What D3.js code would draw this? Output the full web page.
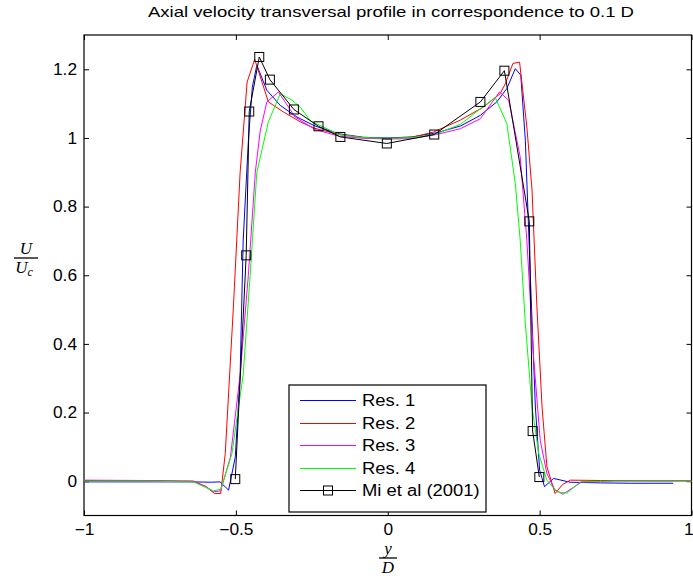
<!DOCTYPE html>
<html lang="en">
<head>
<meta charset="UTF-8" />
<title>Axial velocity transversal profile</title>
<script src="https://d3js.org/d3.v7.min.js"></script>
<style>
  body { margin: 0; background: #fff; }
  svg text { font-family: "Liberation Sans", Arial, sans-serif; }
</style>
</head>
<body>
<svg width="693" height="582"></svg>
<script>
// data
const res1X = [-1, -0.8, -0.65, -0.58, -0.552, -0.524, -0.502, -0.486, -0.476, -0.459, -0.446, -0.431, -0.398, -0.354, -0.299, -0.24, -0.16, -0.08, 0, 0.08, 0.16, 0.24, 0.305, 0.359, 0.392, 0.42, 0.438, 0.453, 0.469, 0.486, 0.5, 0.516, 0.546, 0.6, 0.7, 0.8, 0.94];
const res1Y = [-0.002, -0.002, -0.002, -0.003, -0.002, -0.026, 0.07, 0.31, 0.70, 0.99, 1.148, 1.212, 1.139, 1.095, 1.061, 1.035, 1.012, 1.002, 1.0, 1.003, 1.015, 1.035, 1.066, 1.105, 1.144, 1.202, 1.183, 0.993, 0.606, 0.216, 0.032, -0.016, 0.008, -0.003, -0.005, -0.006, -0.006];

const res2X = [-1, -0.8, -0.64, -0.6, -0.57, -0.55, -0.535, -0.508, -0.486, -0.463, -0.438, -0.393, -0.344, -0.288, -0.24, -0.16, -0.08, 0, 0.08, 0.15, 0.239, 0.315, 0.37, 0.387, 0.412, 0.434, 0.458, 0.475, 0.491, 0.508, 0.524, 0.551, 0.575, 0.601, 0.7, 0.85, 1];
const res2Y = [0.002, 0.001, 0.0, -0.015, -0.036, -0.036, 0.08, 0.51, 0.9, 1.163, 1.229, 1.105, 1.076, 1.047, 1.028, 1.01, 1.001, 0.998, 1.002, 1.017, 1.052, 1.09, 1.129, 1.158, 1.217, 1.221, 1.032, 0.848, 0.508, 0.216, 0.042, -0.036, -0.01, 0.003, 0.002, 0.001, 0.001];

const res3X = [-1, -0.8, -0.64, -0.6, -0.573, -0.55, -0.518, -0.486, -0.459, -0.436, -0.42, -0.398, -0.36, -0.305, -0.24, -0.16, -0.08, 0, 0.08, 0.16, 0.239, 0.305, 0.368, 0.398, 0.436, 0.458, 0.48, 0.502, 0.524, 0.55, 0.577, 0.639, 0.75, 1];
const res3Y = [0.003, 0.002, 0.0, -0.015, -0.031, -0.028, 0.07, 0.31, 0.6, 0.9, 1.02, 1.105, 1.134, 1.061, 1.025, 1.005, 0.999, 0.997, 0.998, 1.01, 1.027, 1.056, 1.134, 1.11, 0.945, 0.702, 0.362, 0.119, 0.022, -0.025, -0.038, -0.002, 0.001, 0.001];

const res4X = [-1, -0.8, -0.64, -0.6, -0.574, -0.55, -0.513, -0.476, -0.453, -0.431, -0.393, -0.354, -0.315, -0.288, -0.255, -0.16, -0.08, 0, 0.08, 0.16, 0.24, 0.305, 0.354, 0.392, 0.42, 0.436, 0.453, 0.475, 0.497, 0.524, 0.557, 0.59, 0.634, 0.75, 1];
const res4Y = [0.0, 0.0, -0.002, -0.018, -0.028, -0.024, 0.08, 0.31, 0.6, 0.9, 1.047, 1.129, 1.11, 1.09, 1.05, 1.01, 1.001, 0.999, 1.001, 1.012, 1.04, 1.085, 1.118, 1.042, 0.867, 0.702, 0.459, 0.216, 0.081, 0.003, -0.031, -0.035, -0.002, 0.0, 0.0];

const miX = [-0.502, -0.466, -0.456, -0.423, -0.388, -0.309, -0.228, -0.156, -0.003, 0.153, 0.305, 0.384, 0.466, 0.477, 0.499];
const miY = [0.006, 0.658, 1.077, 1.236, 1.17, 1.083, 1.034, 1.003, 0.984, 1.01, 1.105, 1.196, 0.757, 0.146, 0.012];

const seriesNames = ["Res. 1", "Res. 2", "Res. 3", "Res. 4", "Mi et al (2001)"];
const seriesColors = ["#0000ff", "#ff0000", "#ff00ff", "#00ff00", "#000000"];
const xTicks = [-1, -0.5, 0, 0.5, 1];
const xTickLabels = ["\u22121", "\u22120.5", "0", "0.5", "1"];
const yTicks = [0, 0.2, 0.4, 0.6, 0.8, 1, 1.2];
const yTickLabels = ["0", "0.2", "0.4", "0.6", "0.8", "1", "1.2"];

// layout
const plotL = 84, plotR = 691.5, plotT = 35, plotB = 515.5;

const svg = d3.select("svg");

const x = d3.scaleLinear().domain([-1, 1]).range([plotL, plotR]);
const y = d3.scaleLinear().domain([-0.1, 1.3]).range([plotB, plotT]);

const line = d3.line().x(d => x(d[0])).y(d => y(d[1]));

// matlab's helvetica is a bit wider than liberation sans
function widen(sel, k) {
    sel.each(function () {
        const w = this.getComputedTextLength();
        d3.select(this).attr("textLength", w * k).attr("lengthAdjust", "spacingAndGlyphs");
    });
}

const sims = [
    d3.zip(res1X, res1Y),
    d3.zip(res2X, res2Y),
    d3.zip(res3X, res3Y),
    d3.zip(res4X, res4Y),
];
const mi = d3.zip(miX, miY);

// axes (ticks inside, on all 4 sides like matlab)
const xAxisG = svg.append("g").attr("transform", `translate(0,${plotB})`)
    .call(d3.axisBottom(x).tickValues(xTicks).tickSizeInner(-5).tickSizeOuter(0).tickPadding(8)
        .tickFormat((d, i) => xTickLabels[i]));
svg.append("g").attr("transform", `translate(0,${plotT})`)
    .call(d3.axisTop(x).tickValues(xTicks).tickSizeInner(-5).tickSizeOuter(0).tickFormat(""));
svg.append("g").attr("transform", `translate(${plotL},0)`)
    .call(d3.axisLeft(y).tickValues(yTicks).tickSizeInner(-5).tickSizeOuter(0).tickPadding(7)
        .tickFormat((d, i) => yTickLabels[i]));
svg.append("g").attr("transform", `translate(${plotR},0)`)
    .call(d3.axisRight(y).tickValues(yTicks).tickSizeInner(-5).tickSizeOuter(0).tickFormat(""));

svg.selectAll(".domain").remove();
svg.selectAll(".tick line").attr("stroke", "#000").attr("stroke-width", 1);
svg.selectAll(".tick text").attr("fill", "#000").style("font-size", "16px");
widen(svg.selectAll(".tick text"), 1.08);

// the "1" at the right edge sits flush against the border of the figure
xAxisG.selectAll(".tick text").filter(d => d === 1)
    .attr("text-anchor", "end").attr("x", 693 - x(1));

svg.append("rect")
    .attr("x", plotL).attr("y", plotT)
    .attr("width", plotR - plotL).attr("height", plotB - plotT)
    .attr("fill", "none").attr("stroke", "#000").attr("stroke-width", 1.2);

// simulation curves
sims.forEach((s, i) => {
    svg.append("path")
        .datum(s)
        .attr("fill", "none")
        .attr("stroke", seriesColors[i])
        .attr("stroke-width", 1)
        .attr("d", line);
});

// experiment
svg.append("path")
    .datum(mi)
    .attr("fill", "none")
    .attr("stroke", "#000")
    .attr("stroke-width", 1)
    .attr("d", line);

svg.selectAll(".mi-pt")
    .data(mi)
    .enter()
    .append("rect")
    .attr("class", "mi-pt")
    .attr("x", d => x(d[0]) - 4.5)
    .attr("y", d => y(d[1]) - 4.5)
    .attr("width", 9).attr("height", 9)
    .attr("fill", "none")
    .attr("stroke", "#000")
    .attr("stroke-width", 1);

// title
svg.append("text")
    .attr("x", 391).attr("y", 17)
    .attr("text-anchor", "middle")
    .style("font-size", "15px")
    .attr("textLength", 486).attr("lengthAdjust", "spacingAndGlyphs")
    .text("Axial velocity transversal profile in correspondence to 0.1 D");

// y label  U / U_c
const yl = svg.append("g").attr("transform", "translate(26,258)")
    .style("font-style", "italic");
yl.append("text").attr("x", 0).attr("y", -4).attr("text-anchor", "middle")
    .style("font-size", "17px").style("font-family", "'Liberation Serif', serif").text("U");
yl.append("line").attr("x1", -12).attr("x2", 12).attr("y1", 0).attr("y2", 0)
    .attr("stroke", "#000").attr("stroke-width", 1.3);
const ylc = yl.append("text").attr("x", -2).attr("y", 15).attr("text-anchor", "middle")
    .style("font-size", "17px").style("font-family", "'Liberation Serif', serif");
ylc.append("tspan").text("U");
ylc.append("tspan").attr("dy", 3).style("font-size", "12px").text("c");

// x label  y / D
const xl = svg.append("g").attr("transform", "translate(388,558)")
    .style("font-style", "italic");
xl.append("text").attr("x", 0).attr("y", -4).attr("text-anchor", "middle")
    .style("font-size", "17px").style("font-family", "'Liberation Serif', serif").text("y");
xl.append("line").attr("x1", -9).attr("x2", 9).attr("y1", 0).attr("y2", 0)
    .attr("stroke", "#000").attr("stroke-width", 1.3);
xl.append("text").attr("x", 0).attr("y", 15).attr("text-anchor", "middle")
    .style("font-size", "17px").style("font-family", "'Liberation Serif', serif").text("D");

// legend
const lg = svg.append("g");
lg.append("rect")
    .attr("x", 289).attr("y", 385).attr("width", 197).attr("height", 127)
    .attr("fill", "#fff").attr("stroke", "#000").attr("stroke-width", 1.2);
const ly = d3.scalePoint().domain(seriesNames).range([400, 490]);
seriesNames.forEach((n, i) => {
    const yy = Math.round(ly(n)) + 0.5;
    lg.append("line")
        .attr("x1", 300).attr("x2", 356).attr("y1", yy).attr("y2", yy)
        .attr("stroke", seriesColors[i]).attr("stroke-width", 1.2);
    if (i === 4) {
        lg.append("rect").attr("x", 328 - 4.5).attr("y", yy - 4.5)
            .attr("width", 9).attr("height", 9)
            .attr("fill", "none").attr("stroke", "#000");
    }
    lg.append("text")
        .attr("class", "lg-text")
        .attr("x", 362).attr("y", yy)
        .attr("dy", "0.36em")
        .style("font-size", "16px")
        .text(n);
});
widen(lg.selectAll(".lg-text"), 1.15);
</script>
</body>
</html>
